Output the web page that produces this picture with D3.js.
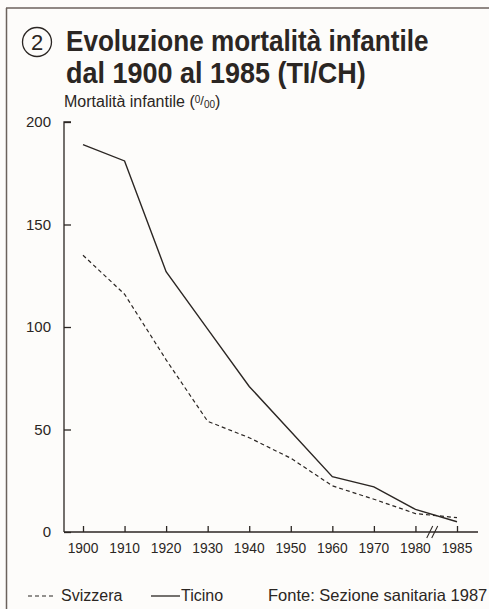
<!DOCTYPE html>
<html>
<head>
<meta charset="utf-8">
<script src="https://cdn.jsdelivr.net/npm/d3@7/dist/d3.min.js"></script>
<style>
  body { margin: 0; background: #fdfcfa; }
  text { font-family: "Liberation Sans", Arial, sans-serif; fill: #2b2623; }
</style>
</head>
<body>
<div id="chart"></div>
<script>
  // anni (asse categoriale, 1985 dopo l'interruzione)
  let years = ['1900', '1910', '1920', '1930', '1940', '1950', '1960', '1970', '1980', '1985'];
  let ticino = [189, 181, 127, 99, 71, 49, 27, 22, 11, 5];
  let svizzera = [135, 116, 84, 54, 46, 36, 22.5, 16, 9, 7];
  let yTicks = [0, 50, 100, 150, 200];

  let width = 489;
  let height = 609;
  let ink = '#2b2623';

  let svg = d3.select('#chart')
  .append('svg')
  .attr('width', width)
  .attr('height', height);

  // testo compresso orizzontalmente (come nella stampa)
  function squeezed(x, y, sx, size, txt) {
    return svg.append('text')
    .attr('transform', `translate(${x},${y}) scale(${sx},1)`)
    .style('font-size', size + 'px')
    .text(txt);
  }

  // cornice
  svg.append('line').attr('x1', 6).attr('x2', width).attr('y1', 8).attr('y2', 8)
  .attr('stroke', '#6b625c').attr('stroke-width', 1.5);
  svg.append('line').attr('x1', 6.5).attr('x2', 6.5).attr('y1', 8).attr('y2', height)
  .attr('stroke', '#6b625c').attr('stroke-width', 1.5);

  // titolo
  svg.append('circle').attr('cx', 37).attr('cy', 42).attr('r', 14.5)
  .attr('fill', 'none').attr('stroke', ink).attr('stroke-width', 1.3);
  svg.append('text').attr('x', 37).attr('y', 50).attr('text-anchor', 'middle')
  .style('font-size', '22px').text('2');
  squeezed(66, 51, 0.9, 29, 'Evoluzione mortalità infantile').style('font-weight', 'bold');
  squeezed(66, 83, 0.93, 29, 'dal 1900 al 1985 (TI/CH)').style('font-weight', 'bold');

  let ylab = svg.append('text').attr('x', 64).attr('y', 107).style('font-size', '16px');
  ylab.append('tspan').text('Mortalità infantile (');
  ylab.append('tspan').attr('dy', -4).style('font-size', '10px').text('0');
  ylab.append('tspan').attr('dy', 2).style('font-size', '13px').text('/');
  ylab.append('tspan').attr('dy', 3).style('font-size', '10px').text('00');
  ylab.append('tspan').attr('dy', -1).text(')');

  let x = d3.scalePoint().domain(years).range([83, 457]);
  let y = d3.scaleLinear().domain([0, 200]).range([532, 122]);

  // asse y
  let yAxis = svg.append('g').attr('transform', 'translate(64,0)')
  .call(d3.axisRight(y).tickValues(yTicks).tickSize(7).tickFormat(''));
  yAxis.select('.domain').attr('d', `M7,${y(200)}H0V${y(0)}`);
  yAxis.selectAll('path, line').attr('stroke', ink).attr('stroke-width', 1.3);

  svg.selectAll('.ylab')
  .data(yTicks)
  .enter().append('text')
  .attr('class', 'ylab')
  .attr('x', 51)
  .attr('y', (d) => y(d) + 5)
  .attr('text-anchor', 'end')
  .style('font-size', '15px')
  .text((d) => d);

  // asse x
  let xAxis = svg.append('g').attr('transform', `translate(0,${y(0)})`)
  .call(d3.axisTop(x).tickSize(6).tickFormat(''));
  xAxis.select('.domain').attr('d', `M64,0H478`);
  xAxis.selectAll('path, line').attr('stroke', ink).attr('stroke-width', 1.3);

  svg.selectAll('.xlab')
  .data(years)
  .enter().append('text')
  .attr('class', 'xlab')
  .attr('transform', (d) => `translate(${x(d)},553) scale(0.92,1)`)
  .attr('text-anchor', 'middle')
  .style('font-size', '15px')
  .text((d) => d);

  // segno di interruzione
  let bx = (x('1980') + x('1985')) / 2 - 4;
  [-2.5, 2.5].forEach((o) => {
    svg.append('line')
    .attr('x1', bx + o - 3).attr('y1', y(0) + 6)
    .attr('x2', bx + o + 3).attr('y2', y(0) - 6)
    .attr('stroke', ink).attr('stroke-width', 1.1);
  });

  // linee
  let line = d3.line()
  .x((d, i) => x(years[i]))
  .y((d) => y(d));

  svg.append('path').datum(ticino)
  .attr('d', line).attr('fill', 'none')
  .attr('stroke', ink).attr('stroke-width', 1.4);

  svg.append('path').datum(svizzera)
  .attr('d', line).attr('fill', 'none')
  .attr('stroke', ink).attr('stroke-width', 1.2)
  .attr('stroke-dasharray', '4,3');

  // legenda
  svg.append('line').attr('x1', 28).attr('x2', 55).attr('y1', 596).attr('y2', 596)
  .attr('stroke', ink).attr('stroke-width', 1.2).attr('stroke-dasharray', '4,3');
  svg.append('text').attr('x', 61).attr('y', 601).style('font-size', '16px').text('Svizzera');
  svg.append('line').attr('x1', 151).attr('x2', 180).attr('y1', 596).attr('y2', 596)
  .attr('stroke', ink).attr('stroke-width', 1.3);
  svg.append('text').attr('x', 181).attr('y', 601).style('font-size', '16px').text('Ticino');
  svg.append('text').attr('x', 268).attr('y', 601).style('font-size', '16.5px').text('Fonte: Sezione sanitaria 1987');
</script>
</body>
</html>
